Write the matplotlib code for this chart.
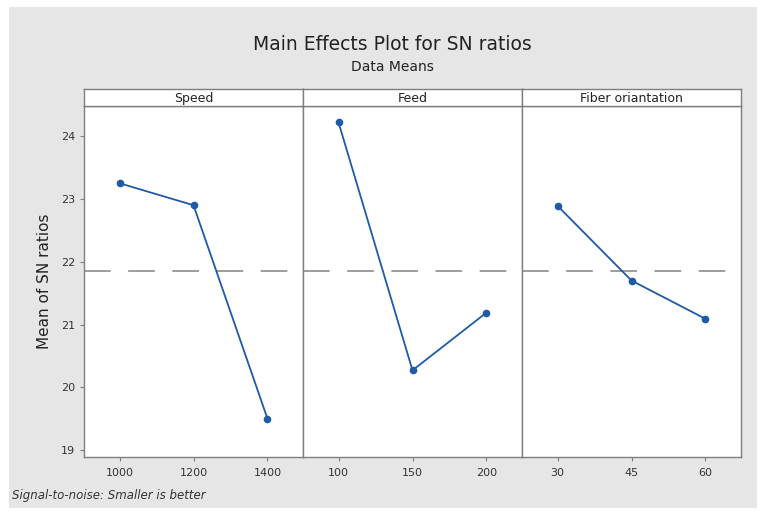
import matplotlib.pyplot as plt
from matplotlib.patches import Rectangle

# Data
factors = ['Speed', 'Feed', 'Fiber oriantation']
speed_levels = [1000, 1200, 1400]
speed_sn = [23.25, 22.90, 19.50]
feed_levels = [100, 150, 200]
feed_sn = [24.22, 20.27, 21.19]
fiber_levels = [30, 45, 60]
fiber_sn = [22.89, 21.70, 21.09]
overall_mean = 21.86
y_ticks = [19, 20, 21, 22, 23, 24]

levels = [speed_levels, feed_levels, fiber_levels]
values = [speed_sn, feed_sn, fiber_sn]

W, H = 764, 515
fig = plt.figure(figsize=(W / 100, H / 100), dpi=100)
fig.patch.set_facecolor('white')

# gray Minitab-like background, kept behind the axes
fig.patches.append(Rectangle((9 / W, 7 / H), (757 - 9) / W, (508 - 7) / H,
                             transform=fig.transFigure, facecolor='#e6e6e6',
                             edgecolor='none', zorder=-10))

line_col = '#1f5aa6'
spine_col = '#7f7f7f'
text_col = '#333333'

x0, x1 = 84, 741
top, bottom = 106, 457
strip_top = 89
pw = (x1 - x0) / 3

for i, (name, lv, sn) in enumerate(zip(factors, levels, values)):
    left = x0 + i * pw
    ax = fig.add_axes([left / W, (H - bottom) / H, pw / W, (bottom - top) / H])
    ax.set_facecolor('white')
    ax.plot(range(len(lv)), sn, color=line_col, lw=1.3, marker='o', ms=4.5,
            zorder=3)
    ax.axhline(overall_mean, color='#8c8c8c', lw=1.2, dashes=(16, 10.5),
               zorder=2)
    ax.set_xlim(-0.48, 2.48)
    ax.set_ylim(18.89, 24.48)
    ax.set_xticks(range(len(lv)))
    ax.set_xticklabels([str(v) for v in lv], fontsize=8, color=text_col)
    ax.tick_params(axis='x', length=3, color=spine_col, pad=5)
    if i == 0:
        ax.set_yticks(y_ticks)
        ax.set_yticklabels([str(v) for v in y_ticks], fontsize=8, color=text_col)
        ax.tick_params(axis='y', length=3, color=spine_col)
        ax.set_ylabel('Mean of SN ratios', fontsize=11, color='#222222',
                      labelpad=6)
    else:
        ax.set_yticks([])
    for s in ax.spines.values():
        s.set_color(spine_col)
        s.set_linewidth(1.0)

    # header strip
    sax = fig.add_axes([left / W, (H - top) / H, pw / W, (top - strip_top) / H])
    sax.set_facecolor('white')
    sax.set_xticks([])
    sax.set_yticks([])
    for s in sax.spines.values():
        s.set_color(spine_col)
        s.set_linewidth(1.0)
    sax.text(0.5, 0.45, name, ha='center', va='center', fontsize=9,
             color='#222222', transform=sax.transAxes)

fig.text(392 / W, 1 - 45 / H, 'Main Effects Plot for SN ratios', ha='center',
         va='center', fontsize=13.5, color='#222222')
fig.text(392 / W, 1 - 67 / H, 'Data Means', ha='center', va='center',
         fontsize=10, color='#222222')
fig.text(12 / W, 1 - 495 / H, 'Signal-to-noise: Smaller is better',
         ha='left', va='center', fontsize=8.5, style='italic', color='#333333')

fig.savefig('out.png', dpi=100)
